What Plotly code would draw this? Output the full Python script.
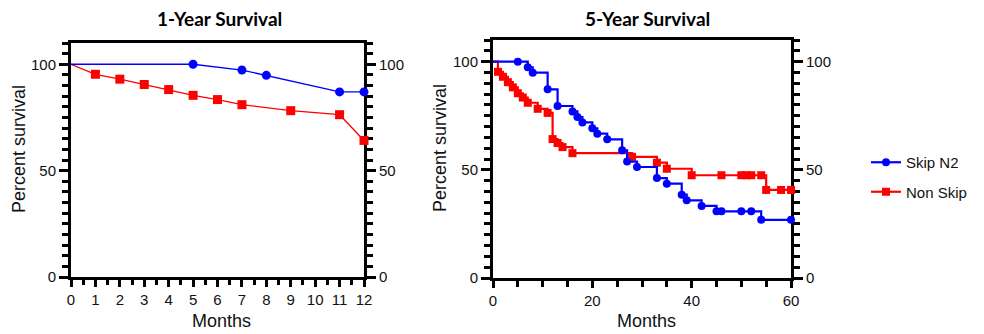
import plotly.graph_objects as go

# ---------------- data ----------------
# 1-Year Survival
y1_months_skip = [0, 5, 7, 8, 11, 12]
y1_skip = [100, 100, 97.3, 94.8, 87.0, 87.0]
y1_months_non = [0, 1, 2, 3, 4, 5, 6, 7, 9, 11, 12]
y1_non = [100, 95.3, 93.0, 90.5, 88.1, 85.4, 83.4, 81.0, 78.2, 76.3, 64.2]

# 5-Year Survival (Kaplan-Meier steps)
y5_months_skip = [0, 5, 7, 8, 11, 13, 16, 17, 18, 20, 21, 23, 26, 27, 29, 33, 35,
                  38, 39, 42, 45, 46, 50, 52, 54, 60]
y5_skip = [100, 100, 97.4, 94.9, 87.2, 79.5, 77.0, 74.4, 71.9, 69.2, 66.7, 64.1,
           59.0, 53.8, 51.3, 46.2, 43.6, 38.5, 35.9, 33.3, 30.8, 30.8, 30.8, 30.8,
           26.9, 26.9]
y5_months_non = [0, 1, 2, 3, 4, 5, 6, 7, 9, 11, 12, 13, 14, 16, 28, 33, 35, 40,
                 46, 50, 51, 52, 54, 55, 58, 60]
y5_non = [100, 95.3, 93.0, 90.5, 88.1, 85.4, 83.4, 81.0, 78.2, 76.3, 64.2, 62.4,
          60.5, 57.7, 56.0, 53.3, 50.5, 47.5, 47.5, 47.5, 47.5, 47.5, 47.5, 40.7,
          40.7, 40.7]

series_names = ["Skip N2", "Non Skip"]
titles = ["1-Year Survival", "5-Year Survival"]
y_ticks = [0, 50, 100]

BLUE = "#0000FF"
RED = "#FF0000"
OFF = 8                      # default page body margin
W, H = 984 - OFF, 334 - OFF
FONT = "Liberation Sans, Arial, sans-serif"

fig = go.Figure()


def add_curve(x, y, color, symbol, size, width, shape, xa, ya):
    fig.add_trace(go.Scatter(x=x, y=y, mode="lines",
                             line=dict(color=color, width=width, shape=shape),
                             xaxis=xa, yaxis=ya, showlegend=False,
                             cliponaxis=False, hoverinfo="skip"))
    fig.add_trace(go.Scatter(x=x[1:], y=y[1:], mode="markers",
                             marker=dict(color=color, symbol=symbol, size=size,
                                         line=dict(width=0)),
                             xaxis=xa, yaxis=ya, showlegend=False,
                             cliponaxis=False))


# left chart
add_curve(y1_months_non, y1_non, RED, "square", 9, 1.3, "linear", "x", "y")
add_curve(y1_months_skip, y1_skip, BLUE, "circle", 9, 1.3, "linear", "x", "y")
# right chart
add_curve(y5_months_non, y5_non, RED, "square", 8, 2.2, "hv", "x2", "y2")
add_curve(y5_months_skip, y5_skip, BLUE, "circle", 8, 2.2, "hv", "x2", "y2")

# dummy traces to activate right-side axes
fig.add_trace(go.Scatter(x=[0], y=[0], xaxis="x", yaxis="y3", mode="markers",
                         marker=dict(opacity=0), showlegend=False, hoverinfo="skip"))
fig.add_trace(go.Scatter(x=[0], y=[0], xaxis="x2", yaxis="y4", mode="markers",
                         marker=dict(opacity=0), showlegend=False, hoverinfo="skip"))

# legend entries
fig.add_trace(go.Scatter(x=[None], y=[None], mode="lines+markers", name=series_names[0],
                         line=dict(color=BLUE, width=2.2),
                         marker=dict(symbol="circle", size=8, color=BLUE),
                         legendgroup="a", xaxis="x2", yaxis="y2"))
fig.add_trace(go.Scatter(x=[None], y=[None], mode="lines+markers", name=series_names[1],
                         line=dict(color=RED, width=2.2),
                         marker=dict(symbol="square", size=8, color=RED),
                         legendgroup="b", xaxis="x2", yaxis="y2"))


def px_x(p):
    return (p - OFF) / W


def px_y(p):
    return 1 - (p - OFF) / H


tick_common = dict(ticks="outside", tickwidth=3, tickcolor="black",
                   showline=True, linewidth=3, linecolor="black",
                   showgrid=False, zeroline=False, layer="below traces",
                   automargin=False,
                   tickfont=dict(family=FONT, size=15, color="#111"))

yax = dict(range=[0, 110], tickmode="array", tickvals=y_ticks, ticklen=9,
           minor=dict(dtick=5, ticklen=6, tickwidth=3, tickcolor="black",
                      ticks="outside", showgrid=False),
           **tick_common)

L_dom_x = [px_x(71), px_x(364)]
R_dom_x = [px_x(493), px_x(791)]
L_dom_y = [px_y(277), px_y(43)]
R_dom_y = [px_y(278), px_y(40)]

fig.update_layout(
    width=W, height=H,
    margin=dict(l=0, r=0, t=0, b=0, autoexpand=False),
    paper_bgcolor="white", plot_bgcolor="white",
    showlegend=True,
    legend=dict(x=px_x(866), y=px_y(146), xanchor="left", yanchor="top",
                font=dict(family=FONT, size=15, color="#111"),
                tracegroupgap=7, bgcolor="rgba(0,0,0,0)"),
    xaxis=dict(domain=L_dom_x, anchor="y", range=[0, 12], tickmode="linear",
               tick0=0, dtick=1, ticklen=7, mirror=True,
               minor=dict(dtick=0.5, ticklen=5, tickwidth=2.5, tickcolor="black",
                          ticks="outside", showgrid=False),
               **tick_common),
    yaxis=dict(domain=L_dom_y, anchor="x", side="left", **yax),
    yaxis3=dict(domain=L_dom_y, anchor="x", overlaying="y", side="right", **yax),
    xaxis2=dict(domain=R_dom_x, anchor="y2", range=[0, 60], tickmode="linear",
                tick0=0, dtick=20, ticklen=7, mirror=True,
                minor=dict(dtick=5, ticklen=6, tickwidth=3, tickcolor="black",
                           ticks="outside", showgrid=False),
                **tick_common),
    yaxis2=dict(domain=R_dom_y, anchor="x2", side="left", **yax),
    yaxis4=dict(domain=R_dom_y, anchor="x2", overlaying="y2", side="right", **yax),
)

ann = []
title_font = dict(family="Lato, Open Sans, sans-serif", size=19, color="black")
lab_font = dict(family=FONT, size=18, color="#111")


def add_ann(text, cx, cy, font, angle=0):
    ann.append(dict(text=text, x=px_x(cx), y=px_y(cy), xref="paper", yref="paper",
                    xanchor="center", yanchor="middle", showarrow=False,
                    textangle=angle, font=font))


add_ann("<b>" + titles[0] + "</b>", 219, 18, title_font)
add_ann("<b>" + titles[1] + "</b>", 647, 18, title_font)
add_ann("Percent survival", 19, 149, lab_font, -90)
add_ann("Percent survival", 440, 148, lab_font, -90)
add_ann("Months", 221, 321, lab_font)
add_ann("Months", 646, 321, lab_font)
fig.update_layout(annotations=ann)

fig.write_html("out.html")
